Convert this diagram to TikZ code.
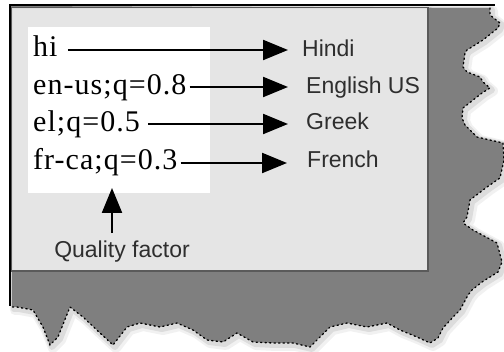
\documentclass[tikz,border=0pt]{standalone}
\usepackage{fontspec}
\setmainfont{Liberation Serif}
\setsansfont{Liberation Sans}
\usetikzlibrary{arrows.meta,calc}
\definecolor{tornfill}{HTML}{7F7F7F}
\definecolor{panel}{HTML}{E5E5E5}
\definecolor{panelline}{HTML}{5A5A5A}
\definecolor{lbl}{HTML}{2E2E2E}
\tikzset{
  code/.style={font=\fontsize{30}{30}\selectfont\addfontfeature{LetterSpace=3.5}, text=black, inner sep=0pt, anchor=base west},
  lang/.style={font=\sffamily\fontsize{23}{23}\selectfont, text=lbl, inner sep=0pt, anchor=base west},
  arr/.style={line width=2.2pt, -{Triangle[length=25pt,width=20pt]}},
}
\begin{document}
\begin{tikzpicture}[x=1pt,y=-1pt]
\useasboundingbox (0,0) rectangle (504,352);
\fill[white] (0,0) rectangle (504,352);
% torn shadow region
\def\tornedge{(490,8) -- (490,15) -- (500,23) -- (498,28) -- (483,40) -- (467,50) -- (465,53)
  -- (463,67) -- (467,72) -- (480,77) -- (483,82) -- (490,88) -- (482,93) -- (463,108) -- (462,118)
  -- (465,125) -- (477,137) -- (503,143) -- (504,160) -- (500,178) -- (487,187) -- (470,200)
  -- (467,217) -- (463,223) -- (473,230) -- (497,243) -- (502,262) -- (498,272) -- (490,277)
  -- (482,282) -- (472,290) -- (468,295) -- (460,310) -- (455,315) -- (443,328) -- (438,338)
  -- (430,343) -- (417,337) -- (400,330) -- (387,323) -- (367,327) -- (347,323) -- (330,327)
  -- (320,337) -- (310,347) -- (293,343) -- (273,343) -- (253,342) -- (237,333) -- (223,342)
  -- (207,340) -- (193,330) -- (177,323) -- (160,327) -- (140,323) -- (127,327) -- (113,345)
  -- (100,333) -- (83,317) -- (70,307) -- (58,337) -- (50,345) -- (43,327) -- (33,310)
  -- (17,307) -- (12,307)}
\draw[tornfill, line width=10pt, opacity=0.10, line join=round, shift={(3,3)}] (11,6) -- \tornedge -- cycle;
\draw[tornfill, line width=6pt, opacity=0.18, line join=round, shift={(2,2)}] (11,6) -- \tornedge -- cycle;
\fill[tornfill] (11,6) -- \tornedge -- cycle;
\draw[black, line width=1.3pt, dash pattern=on 1.3pt off 3.2pt, line cap=round] \tornedge;
% frame lines
\draw[black, line width=2pt] (10,306) -- (10,5) -- (495,5);
% panel
\draw[panelline, line width=1.5pt, fill=panel] (12,8) rectangle (428,271);
\draw[white!80!panelline, line width=1pt] (12.5,270) -- (12.5,8.5) -- (427,8.5);
\fill[white] (28,27) rectangle (210,193);
% codes
\node[code] (hi)   at (33,57)  {hi};
\node[code] (enus) at (33,95)  {en-us;q=0.8};
\node[code] (el)   at (33,132) {el;q=0.5};
\node[code] (frca) at (33,170) {fr-ca;q=0.3};
% languages
\node[lang] (hindi)   at (302,57)  {Hindi};
\node[lang] (english) at (306,94)  {English US};
\node[lang] (greek)   at (306,130) {Greek};
\node[lang] (french)  at (307,168) {French};
\node[lang, anchor=base] (qf) at (122,258) {Quality factor};
% arrows
\coordinate (tipx) at (288,0);
\draw[arr] ($(hi.east |- 0,50)+(10,0)$)   -- (tipx |- 0,50);
\draw[arr] ($(enus.east |- 0,87)+(3,0)$)  -- (tipx |- 0,87);
\draw[arr] ($(el.east |- 0,124)+(8,0)$)   -- (tipx |- 0,124);
\draw[arr] ($(frca.east |- 0,163)+(3,0)$) -- (287,163);
\draw[arr] ($(qf.north -| 112,0)+(0,-8)$) -- (112,188);
\end{tikzpicture}
\end{document}
